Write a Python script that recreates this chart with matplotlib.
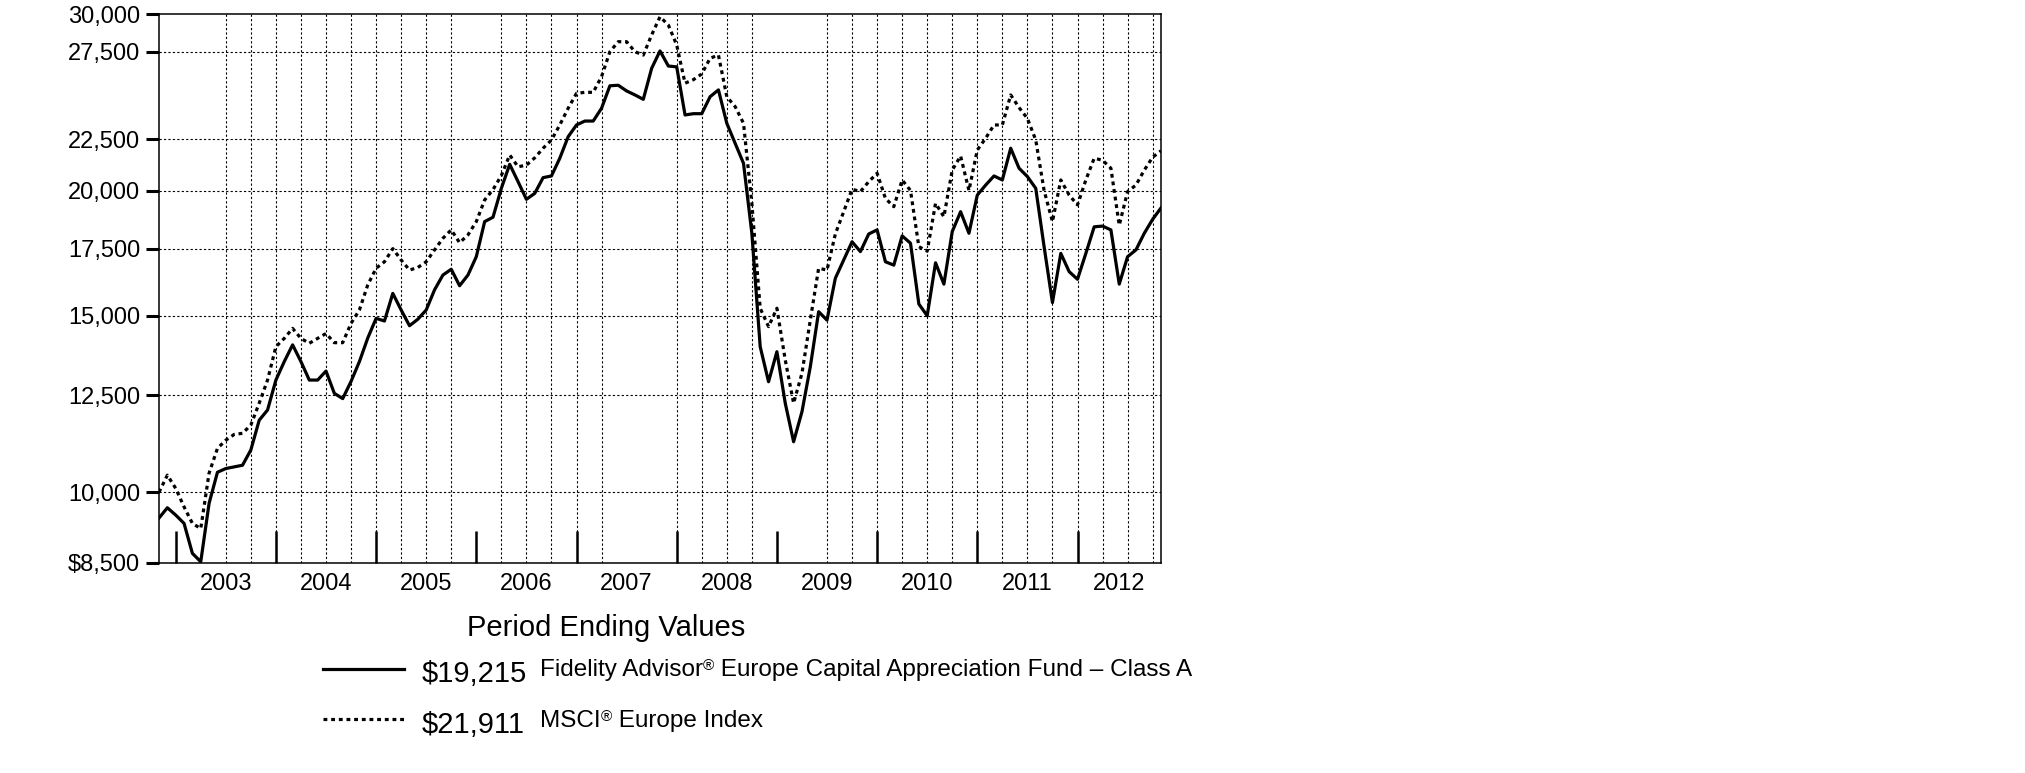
import matplotlib
matplotlib.use("Agg")
import matplotlib.pyplot as plt
from matplotlib.lines import Line2D
from matplotlib.ticker import NullLocator

plt.rcParams['font.family'] = ['Liberation Sans', 'DejaVu Sans']

# month-end values, Oct 2002 .. Oct 2012 (121 points)
fund = [9425, 9650, 9490, 9310, 8690, 8525, 9750, 10470, 10560, 10600,
        10640, 11020, 11800, 12080, 12940, 13500, 14030, 13500, 12940, 12940,
        13210, 12550, 12400, 12900, 13500, 14250, 14910, 14820, 15790, 15200,
        14660, 14880, 15200, 15920, 16470, 16690, 16070, 16470, 17180, 18620,
        18810, 20100, 21240, 20410, 19600, 19870, 20600, 20680, 21540, 22630,
        23250, 23460, 23460, 24160, 25440, 25470, 25140, 24910, 24660, 26480,
        27560, 26620, 26570, 23790, 23860, 23860, 24810, 25200, 23340, 22290,
        21290, 18130, 13970, 12890, 13810, 12270, 11230, 12030, 13340, 15140,
        14850, 16350, 17050, 17780, 17380, 18100, 18270, 16980, 16850, 18020,
        17720, 15410, 15000, 16940, 16130, 18200, 19050, 18130, 19790, 20250,
        20680, 20490, 22040, 21050, 20650, 20100, 17580, 15460, 17310, 16600,
        16310, 17310, 18400, 18430, 18270, 16130, 17180, 17450, 18130, 18720,
        19215]

msci = [10000, 10400, 10090, 9670, 9310, 9200, 10450, 11060, 11270, 11420,
        11450, 11670, 12270, 12940, 13970, 14240, 14570, 14240, 14080, 14240,
        14400, 14100, 14100, 14740, 15200, 16100, 16730, 16980, 17500, 17050,
        16660, 16760, 16980, 17450, 17920, 18270, 17740, 18060, 18620, 19570,
        20040, 20700, 21700, 21120, 21200, 21560, 22040, 22460, 23250, 24160,
        25000, 25060, 25060, 25980, 27510, 28150, 28150, 27510, 27300, 28590,
        29810, 29250, 27940, 25590, 25800, 26140, 27100, 27300, 24810, 24250,
        23340, 19420, 15260, 14630, 15260, 13550, 12270, 13140, 14850, 16730,
        16660, 18100, 19050, 20060, 19950, 20410, 20810, 19640, 19270, 20490,
        20000, 17580, 17400, 19420, 18830, 20960, 21650, 20000, 21950, 22550,
        23250, 23250, 24910, 24200, 23600, 22460, 20000, 18620, 20490, 19790,
        19350, 20490, 21540, 21440, 21050, 18470, 19950, 20250, 20960, 21590,
        21911]

months = list(range(len(fund)))
year_labels = ['2003', '2004', '2005', '2006', '2007', '2008', '2009',
               '2010', '2011', '2012']
year_starts = [2, 14, 26, 38, 50, 62, 74, 86, 98, 110]
label_pos = [8, 20, 32, 44, 56, 68, 80, 92, 104, 115]
grid_months = [8, 11, 14, 17, 20, 23, 26, 29, 32, 35, 41, 44, 47, 50, 53,
               62, 65, 68, 71, 80, 83, 86, 89, 92, 95, 98, 101, 104, 107,
               110, 113, 116, 119]
ytick_vals = [8500, 10000, 12500, 15000, 17500, 20000, 22500, 27500, 30000]
ytick_labels = ['$8,500', '10,000', '12,500', '15,000', '17,500', '20,000',
                '22,500', '27,500', '30,000']

W, H = 2025, 773
fig = plt.figure(figsize=(W / 100, H / 100), dpi=100)
ax = fig.add_axes([159 / W, 1 - 563 / H, (1161 - 159) / W, (563 - 14) / H])

ax.set_yscale('log')
ax.set_xlim(0, 120)
ax.set_ylim(8500, 30000)

grid_style = dict(color='black', linewidth=0.8, linestyle=(0, (2, 2)))
ax.vlines(grid_months, 8500, 30000, zorder=1, **grid_style)
for v in ytick_vals[1:-1]:
    ax.axhline(v, zorder=1, **grid_style)

ax.plot(months, msci, color='black', linewidth=2.3, linestyle=(0, (1.2, 1.2)),
        zorder=3)
ax.plot(months, fund, color='black', linewidth=2.3, zorder=4)

ax.yaxis.set_minor_locator(NullLocator())
ax.set_yticks(ytick_vals)
ax.set_yticklabels(ytick_labels)
ax.tick_params(axis='y', direction='out', length=9.5, width=2.2,
               labelsize=17, pad=4)

ax.set_xticks(year_starts)
ax.set_xticklabels([''] * len(year_starts))
ax.set_xticks(label_pos, minor=True)
ax.set_xticklabels(year_labels, minor=True)
ax.tick_params(axis='x', which='major', direction='in', length=23, width=1.8)
ax.tick_params(axis='x', which='minor', length=0, labelsize=17, pad=7)

for s in ax.spines.values():
    s.set_linewidth(1.1)


# legend block
def fx(px):
    return px / W


def fy(py):
    return 1 - py / H


renderer = fig.canvas.get_renderer()


def text_run(x_px, y_px, parts):
    # parts: (text, size, raise in px)
    x = x_px
    for s, size, lift in parts:
        t = fig.text(fx(x), fy(y_px - lift), s, fontsize=size,
                     ha='left', va='baseline')
        x = t.get_window_extent(renderer).x1


fig.text(fx(467), fy(628), 'Period Ending Values', fontsize=21,
         ha='left', va='center')

fig.add_artist(Line2D([fx(323), fx(404)], [fy(669), fy(669)],
                      color='black', linewidth=2.3))
fig.add_artist(Line2D([fx(323), fx(404)], [fy(719), fy(719)],
                      color='black', linewidth=2.3, linestyle=(0, (1.2, 1.2))))

fig.text(fx(422), fy(682), '$19,215', fontsize=21, ha='left', va='baseline')
text_run(540, 676, [('Fidelity Advisor', 17.5, 0), ('\u00ae', 11, 6),
                    (' Europe Capital Appreciation Fund \u2013 Class A', 17.5, 0)])
fig.text(fx(422), fy(733), '$21,911', fontsize=21, ha='left', va='baseline')
text_run(540, 727, [('MSCI', 17.5, 0), ('\u00ae', 11, 6),
                    (' Europe Index', 17.5, 0)])

fig.savefig('out.png', dpi=100)
